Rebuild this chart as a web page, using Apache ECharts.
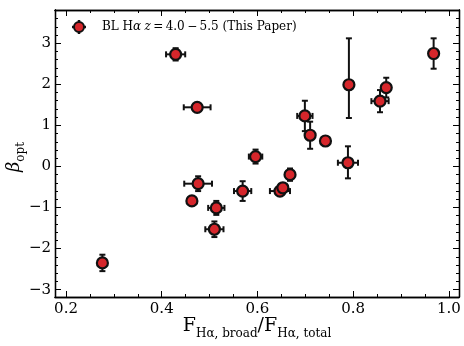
<!DOCTYPE html>
<html>
<head>
<meta charset="utf-8">
<script src="https://cdn.jsdelivr.net/npm/echarts@6/dist/echarts.min.js"></script>
<style>
  html, body { margin: 0; padding: 0; background: #fff; }
  #chart { width: 464px; height: 346px; }
</style>
</head>
<body>
<div id="chart"></div>
<script>
// broad-line fraction vs optical slope
const fracBroad = [0.276, 0.429, 0.474, 0.476, 0.463, 0.514, 0.510, 0.569, 0.596, 0.647,
                   0.653, 0.668, 0.699, 0.710, 0.742, 0.791, 0.789, 0.856, 0.869, 0.968];
const betaOpt   = [-2.35, 2.73, 1.44, -0.42, -0.84, -1.01, -1.53, -0.60, 0.24, -0.60,
                   -0.52, -0.20, 1.23, 0.76, 0.62, 1.99, 0.09, 1.59, 1.92, 2.75];
const fracErr   = [0.004, 0.020, 0.028, 0.029, 0.004, 0.017, 0.019, 0.018, 0.014, 0.021,
                   0.010, 0.005, 0.016, 0.006, 0.008, 0.004, 0.021, 0.018, 0.010, 0.005];
const betaErrLo = [0.20, 0.15, 0.10, 0.18, 0.10, 0.17, 0.19, 0.24, 0.17, 0.10,
                   0.10, 0.15, 0.37, 0.33, 0.10, 0.81, 0.38, 0.27, 0.24, 0.37];
const betaErrHi = [0.20, 0.15, 0.10, 0.18, 0.10, 0.17, 0.19, 0.24, 0.17, 0.10,
                   0.10, 0.15, 0.37, 0.33, 0.10, 1.13, 0.40, 0.27, 0.24, 0.37];

const xTicks = [0.2, 0.4, 0.6, 0.8, 1.0];
const yTicks = [-3, -2, -1, 0, 1, 2, 3];

const xMin = 0.177, xMax = 1.021;
const yMin = -3.18, yMax = 3.81;

// minor ticks (0.05 in x, 0.2 in y)
const xMinor = [];
for (let i = 4; i <= 20; i++) xMinor.push(+(i * 0.05).toFixed(2));
const yMinor = [];
for (let i = -15; i <= 19; i++) yMinor.push(+(i * 0.2).toFixed(1));

const serif = "DejaVu Serif";
const red = "#d6262b";

const chart = echarts.init(document.getElementById("chart"));

const makeX = (pos, ticks, len, labels) => ({
  type: "value", min: xMin, max: xMax, position: pos,
  axisLine: { show: true, onZero: false, lineStyle: { color: "#000", width: 1.3 } },
  axisTick: { show: true, inside: true, length: len, customValues: ticks, lineStyle: { color: "#000", width: 1 } },
  axisLabel: labels
    ? { show: true, customValues: ticks, formatter: (v) => v.toFixed(1), color: "#000",
        fontFamily: serif, fontSize: 15, margin: 5 }
    : { show: false },
  splitLine: { show: false },
});
const makeY = (pos, ticks, len, labels) => ({
  type: "value", min: yMin, max: yMax, position: pos,
  axisLine: { show: true, onZero: false, lineStyle: { color: "#000", width: 1.3 } },
  axisTick: { show: true, inside: true, length: len, customValues: ticks, lineStyle: { color: "#000", width: 1 } },
  axisLabel: labels
    ? { show: true, customValues: ticks, formatter: (v) => String(v).replace("-", "\u2212"), color: "#000",
        fontFamily: serif, fontSize: 15, margin: 4 }
    : { show: false },
  splitLine: { show: false },
});

const renderErrorBars = (params, api) => {
  const x = api.value(0), y = api.value(1);
  const xe = api.value(2), ylo = api.value(3), yhi = api.value(4);
  const l = api.coord([x - xe, y]), r = api.coord([x + xe, y]);
  const b = api.coord([x, y - ylo]), t = api.coord([x, y + yhi]);
  const cap = 3;
  const style = { stroke: "#111", lineWidth: 2 };
  const line = (x1, y1, x2, y2) => ({ type: "line", shape: { x1, y1, x2, y2 }, style });
  return {
    type: "group",
    children: [
      line(l[0], l[1], r[0], r[1]),
      line(l[0], l[1] - cap, l[0], l[1] + cap),
      line(r[0], r[1] - cap, r[0], r[1] + cap),
      line(b[0], b[1], t[0], t[1]),
      line(b[0] - cap, b[1], b[0] + cap, b[1]),
      line(t[0] - cap, t[1], t[0] + cap, t[1]),
    ],
  };
};

const option = {
  animation: false,
  grid: { left: 55, right: 5, top: 10, bottom: 49, containLabel: false },
  xAxis: [
    makeX("bottom", xTicks, 6, true),
    makeX("top", xTicks, 6, false),
    makeX("bottom", xMinor, 3, false),
    makeX("top", xMinor, 3, false),
  ],
  yAxis: [
    makeY("left", yTicks, 6, true),
    makeY("right", yTicks, 6, false),
    makeY("left", yMinor, 3, false),
    makeY("right", yMinor, 3, false),
  ],
  series: [
    {
      type: "custom",
      renderItem: renderErrorBars,
      encode: { x: 0, y: 1 },
      data: fracBroad.map((x, i) => [x, betaOpt[i], fracErr[i], betaErrLo[i], betaErrHi[i]]),
      z: 2,
    },
    {
      type: "scatter",
      symbol: "circle",
      symbolSize: 11,
      itemStyle: { color: red, borderColor: "#111", borderWidth: 2.2, opacity: 1 },
      data: fracBroad.map((x, i) => [x, betaOpt[i]]),
      z: 3,
    },
  ],
  graphic: [
    // legend handle
    { type: "line", shape: { x1: 72, y1: 27, x2: 86, y2: 27 }, style: { stroke: "#111", lineWidth: 2.5 } },
    { type: "line", shape: { x1: 79, y1: 20, x2: 79, y2: 34 }, style: { stroke: "#111", lineWidth: 2.5 } },
    { type: "circle", shape: { cx: 79, cy: 27, r: 5 }, style: { fill: red, stroke: "#111", lineWidth: 2 } },
    {
      type: "text", left: 102, top: 21,
      style: {
        text: "{t|BL H}{i|\u03b1} {i|z}{t|\u2009=\u20094.0\u2009\u2212\u20095.5 (This Paper)}",
        rich: {
          t: { fontFamily: serif, fontSize: 12, fill: "#000" },
          i: { fontFamily: serif, fontStyle: "italic", fontSize: 12, fill: "#000" },
        },
      },
    },
    // y label
    {
      type: "text", x: 16, y: 157, rotation: Math.PI / 2,
      style: {
        text: "{b|\u03b2}{s|opt}",
        align: "center", verticalAlign: "middle",
        rich: {
          b: { fontFamily: serif, fontStyle: "italic", fontSize: 18, fill: "#000", verticalAlign: "bottom", padding: [0, 0, 4, 0] },
          s: { fontFamily: serif, fontSize: 12, fill: "#000", verticalAlign: "bottom" },
        },
      },
    },
    // x label
    {
      type: "text", x: 257, y: 328,
      style: {
        text: "{b|F}{s|H\u03b1, broad}{b|/F}{s|H\u03b1, total}",
        align: "center", verticalAlign: "middle",
        rich: {
          b: { fontFamily: serif, fontSize: 19, fill: "#000", verticalAlign: "bottom", padding: [0, 0, 4, 0] },
          s: { fontFamily: serif, fontSize: 12, fill: "#000", verticalAlign: "bottom" },
        },
      },
    },
  ],
};

option && chart.setOption(option);
</script>
</body>
</html>
